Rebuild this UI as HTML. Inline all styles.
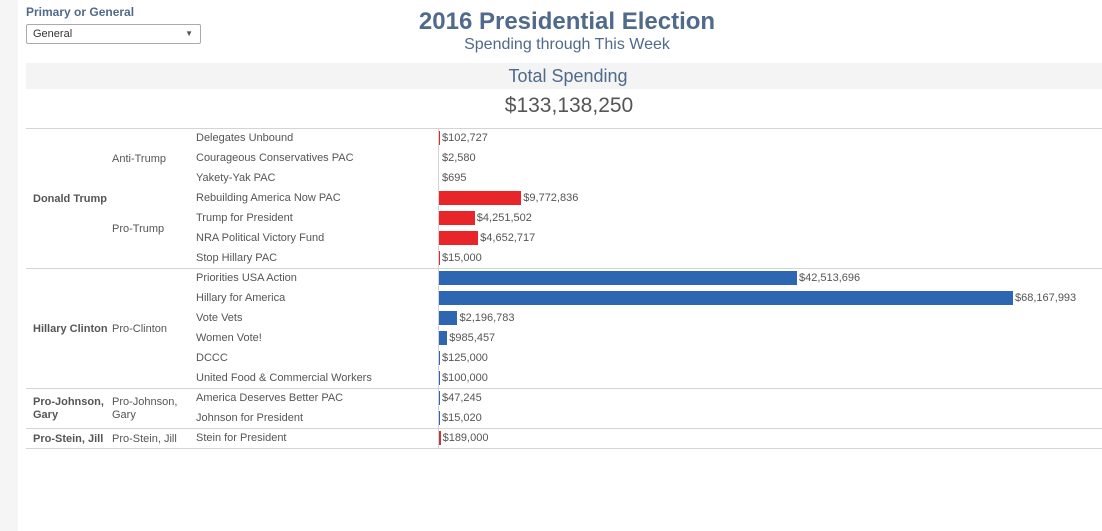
<!DOCTYPE html>
<html><head><meta charset="utf-8"><style>
body{margin:0;width:1102px;height:531px;background:#fff;font-family:"Liberation Sans",sans-serif;position:relative;overflow:hidden}
.a{position:absolute;white-space:nowrap}
.lbl{font-size:11px;color:#555}
</style></head><body>
<div class="a" style="left:0;top:0;width:18px;height:531px;background:#f5f5f5"></div>
<div class="a" style="left:26px;top:5px;font-size:12px;font-weight:bold;color:#4f6a8a">Primary or General</div>
<div class="a" style="left:26px;top:24px;border:1px solid #aaa;border-radius:2px;font-size:11px;color:#333;line-height:18px;padding-left:6px;box-sizing:border-box;width:175px;height:20px">General<span style="position:absolute;right:7px;top:0;font-size:8px;color:#555">▼</span></div>
<div class="a" style="left:0;width:1134px;text-align:center;top:8px;font-size:24px;font-weight:bold;color:#4f6a8a">2016 Presidential Election</div>
<div class="a" style="left:0;width:1134px;text-align:center;top:36px;font-size:16px;color:#4f6a8a">Spending through This Week</div>
<div class="a" style="left:26px;top:63px;width:1076px;height:26px;background:#f4f4f4"></div>
<div class="a" style="left:0;width:1136px;text-align:center;top:66px;font-size:18px;color:#4f6a8a">Total Spending</div>
<div class="a" style="left:0;width:1138px;text-align:center;top:94px;font-size:21px;color:#555">$133,138,250</div>
<div id="tbl"></div>
<script>
const committees=["Delegates Unbound","Courageous Conservatives PAC","Yakety-Yak PAC","Rebuilding America Now PAC","Trump for President","NRA Political Victory Fund","Stop Hillary PAC","Priorities USA Action","Hillary for America","Vote Vets","Women Vote!","DCCC","United Food & Commercial Workers","America Deserves Better PAC","Johnson for President","Stein for President"];
const spending=[102727,2580,695,9772836,4251502,4652717,15000,42513696,68167993,2196783,985457,125000,100000,47245,15020,189000];
const barColors=["#e8262a","#e8262a","#e8262a","#e8262a","#e8262a","#e8262a","#e8262a","#2e67b1","#2e67b1","#2e67b1","#2e67b1","#2e67b1","#2e67b1","#2e67b1","#2e67b1","#c0393b"];
const candidates=[["Donald Trump",0,7],["Hillary Clinton",7,6],["Pro-Johnson,<br>Gary",13,2],["Pro-Stein, Jill",15,1]];
const groups=[["Anti-Trump",0,3],["Pro-Trump",3,4],["Pro-Clinton",7,6],["Pro-Johnson,<br>Gary",13,2],["Pro-Stein, Jill",15,1]];
const T=document.getElementById('tbl');
const top0=128,rh=20,x0=439,maxW=574,maxV=68167993;
const xs=v=>v/maxV*maxW;
function add(h){const d=document.createElement('div');d.className='a';d.innerHTML=h;T.appendChild(d);return d;}
candidates.forEach((c,i)=>{
 const l=add('');l.style.cssText=`left:26px;top:${top0+c[1]*rh}px;width:1076px;height:1px;background:#d4d4d4`;
 
 
 const t=add(c[0]);t.classList.add('lbl');t.style.cssText+=`;left:33px;font-weight:bold;line-height:13px;top:${top0+c[1]*rh+c[2]*rh/2-(c[0].includes('<br>')?12:5)}px`;
 
 
});
const e=add('');e.style.cssText=`left:26px;top:${top0+committees.length*rh}px;width:1076px;height:1px;background:#d4d4d4`;


const v=add('');v.style.cssText=`left:438px;top:${top0}px;width:1px;height:${committees.length*rh}px;background:#d4d4d4`;


groups.forEach(g=>{
 const t=add(g[0]);t.classList.add('lbl');t.style.cssText+=`;left:112px;line-height:13px;top:${top0+g[1]*rh+g[2]*rh/2-(g[0].includes('<br>')?12:5)}px`;
 
 
});
committees.forEach((c,i)=>{
 const y=top0+i*rh;
 const t=add(c.replace('&','&amp;'));t.classList.add('lbl');t.style.cssText+=`;left:196px;top:${y+4}px`;
 
 
 const w=xs(spending[i]);
 const b=add('');b.style.cssText=`left:${x0}px;top:${y+3}px;width:${w}px;height:14px;background:${barColors[i]}`;
 
 
 const vl=add('$'+spending[i].toLocaleString('en-US'));vl.classList.add('lbl');vl.style.cssText+=`;left:${x0+Math.max(w,1)+2}px;top:${y+4}px`;
 
 
});
</script>
</body></html>
